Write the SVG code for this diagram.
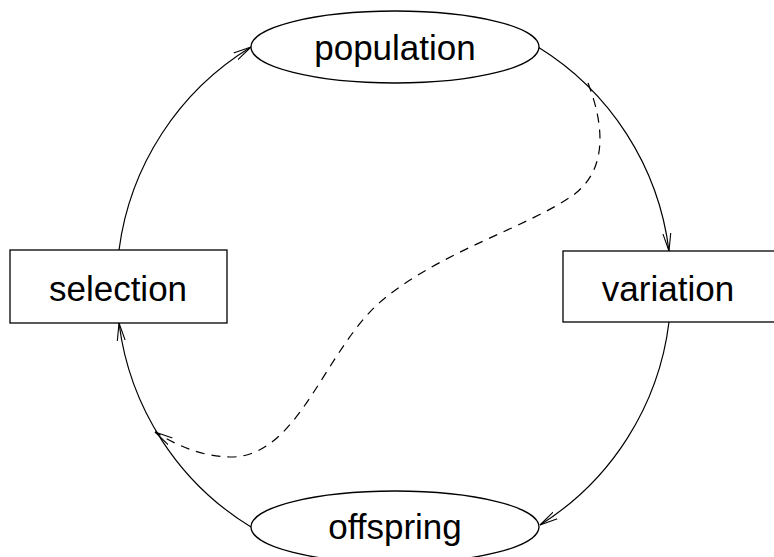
<svg xmlns="http://www.w3.org/2000/svg" width="774" height="557" viewBox="0 0 774 557">
  <style>
    .node { fill: #fff; stroke: #000; stroke-width: 1.3; }
    .label { font-family: "Liberation Sans", Arial, sans-serif; font-size: 35px; fill: #000; text-anchor: middle; dominant-baseline: central; }
    .edge { fill: none; stroke: #000; stroke-width: 1.2; marker-end: url(#arrow); }
    .dashed { stroke-dasharray: 9 7; }
  </style>
  <defs>
    <marker id="arrow" viewBox="0 0 19 10" refX="18" refY="5" markerWidth="19" markerHeight="10" markerUnits="userSpaceOnUse" orient="auto">
      <path d="M0,1 L18,5 L0,9" fill="none" stroke="#000" stroke-width="1.1"/>
    </marker>
  </defs>

  <g id="connectors">
    <path class="edge" d="M538,47 A280,280 0 0 1 669,251"/>
    <path class="edge" d="M669,322 A280,280 0 0 1 540,525"/>
    <path class="edge" d="M251,527 A280,280 0 0 1 119,323"/>
    <path class="edge" d="M119,250 A280,280 0 0 1 251,47"/>
    <path class="edge dashed" d="M588,83 C606,130 606,172 572,196 C525,228 445,250 385,298 C325,346 300,458 230,457 C200,456 178,446 155,432"/>
  </g>

  <g id="population">
    <ellipse class="node" cx="395" cy="47" rx="144" ry="36"/>
    <text class="label" x="395" y="47">population</text>
  </g>

  <g id="selection">
    <rect class="node" x="10" y="250" width="217" height="73"/>
    <text class="label" x="118" y="288">selection</text>
  </g>

  <g id="variation">
    <rect class="node" x="563" y="251" width="220" height="71"/>
    <text class="label" x="668" y="288">variation</text>
  </g>

  <g id="offspring">
    <ellipse class="node" cx="395" cy="527" rx="144" ry="36"/>
    <text class="label" x="395" y="526">offspring</text>
  </g>
</svg>
